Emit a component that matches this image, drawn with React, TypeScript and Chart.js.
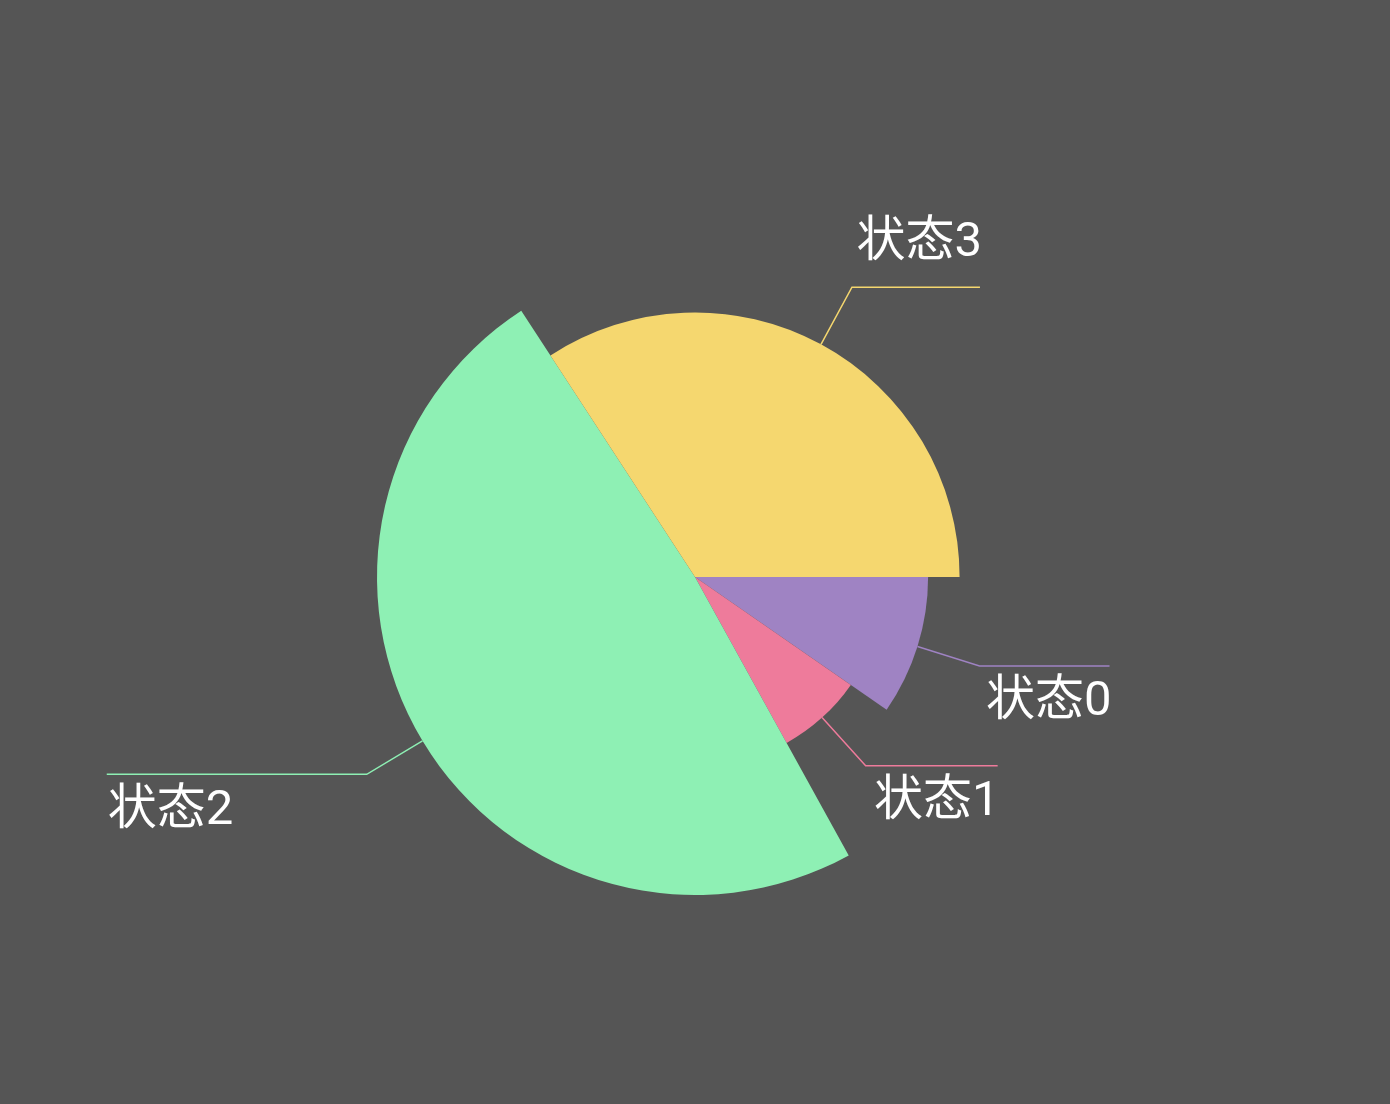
import React, { useEffect, useRef } from "react";
import { Chart, registerables } from "chart.js";

Chart.register(...registerables);

const categories = ["状态0", "状态1", "状态2", "状态3"];
const values = [9.64, 7.33, 48.83, 34.2];
const radiusValues = [73.3, 59.6, 100, 83.2];
const colors = ["#9f83c3", "#ee7b9b", "#8ef0b4", "#f5d76f"];
const lineLength2 = [130, 132, 260, 128];

const roseRadiusPlugin = {
  id: "roseRadius",
  afterDatasetUpdate(chart: any, args: any) {
    const meta = chart.getDatasetMeta(args.index);
    const maxV = Math.max(...radiusValues);
    meta.data.forEach((el: any, i: number) => {
      const base = el.outerRadius;
      el.outerRadius = (base * radiusValues[i]) / maxV;
    });
  },
};

const leaderLabelPlugin = {
  id: "leaderLabels",
  afterDraw(chart: any) {
    const ctx = chart.ctx;
    const meta = chart.getDatasetMeta(0);
    meta.data.forEach((el: any, i: number) => {
      const mid = (el.startAngle + el.endAngle) / 2;
      const cx = el.x;
      const cy = el.y;
      const r = el.outerRadius;
      const c = Math.cos(mid);
      const s = Math.sin(mid);
      const x0 = cx + r * c;
      const y0 = cy + r * s;
      const x1 = cx + (r + 65) * c;
      const y1 = cy + (r + 65) * s;
      const dir = c >= 0 ? 1 : -1;
      const x2 = x1 + dir * lineLength2[i];
      ctx.save();
      ctx.strokeStyle = colors[i];
      ctx.lineWidth = 1.5;
      ctx.beginPath();
      ctx.moveTo(x0, y0);
      ctx.lineTo(x1, y1);
      ctx.lineTo(x2, y1);
      ctx.stroke();
      ctx.fillStyle = "#ffffff";
      ctx.font = "49px Roboto, 'Noto Sans CJK SC', sans-serif";
      ctx.textAlign = dir > 0 ? "right" : "left";
      ctx.textBaseline = "middle";
      const ty = s < 0 ? y1 - 43 : y1 + 37;
      ctx.fillText(categories[i], dir > 0 ? x2 + 2 : x2 + 1, ty);
      ctx.restore();
    });
  },
};

export default function App() {
  const ref = useRef<HTMLCanvasElement | null>(null);
  useEffect(() => {
    if (!ref.current) return;
    const chart = new Chart(ref.current, {
      type: "doughnut",
      data: {
        labels: categories,
        datasets: [
          {
            data: values,
            backgroundColor: colors,
            borderWidth: 0,
          },
        ],
      },
      options: {
        responsive: false,
        animation: false,
        events: [],
        cutout: 0,
        rotation: 90,
        circumference: 360,
        layout: { padding: { top: 259, bottom: 209, left: 0, right: 0 } },
        plugins: {
          legend: { display: false },
          tooltip: { enabled: false },
        },
      },
      plugins: [roseRadiusPlugin, leaderLabelPlugin],
    });
    return () => chart.destroy();
  }, []);
  return (
    <div
      style={{
        position: "absolute",
        left: 0,
        top: 0,
        width: 1390,
        height: 1104,
        background: "#555555",
      }}
    >
      <canvas ref={ref} width={1390} height={1104} style={{ display: "block" }} />
    </div>
  );
}
